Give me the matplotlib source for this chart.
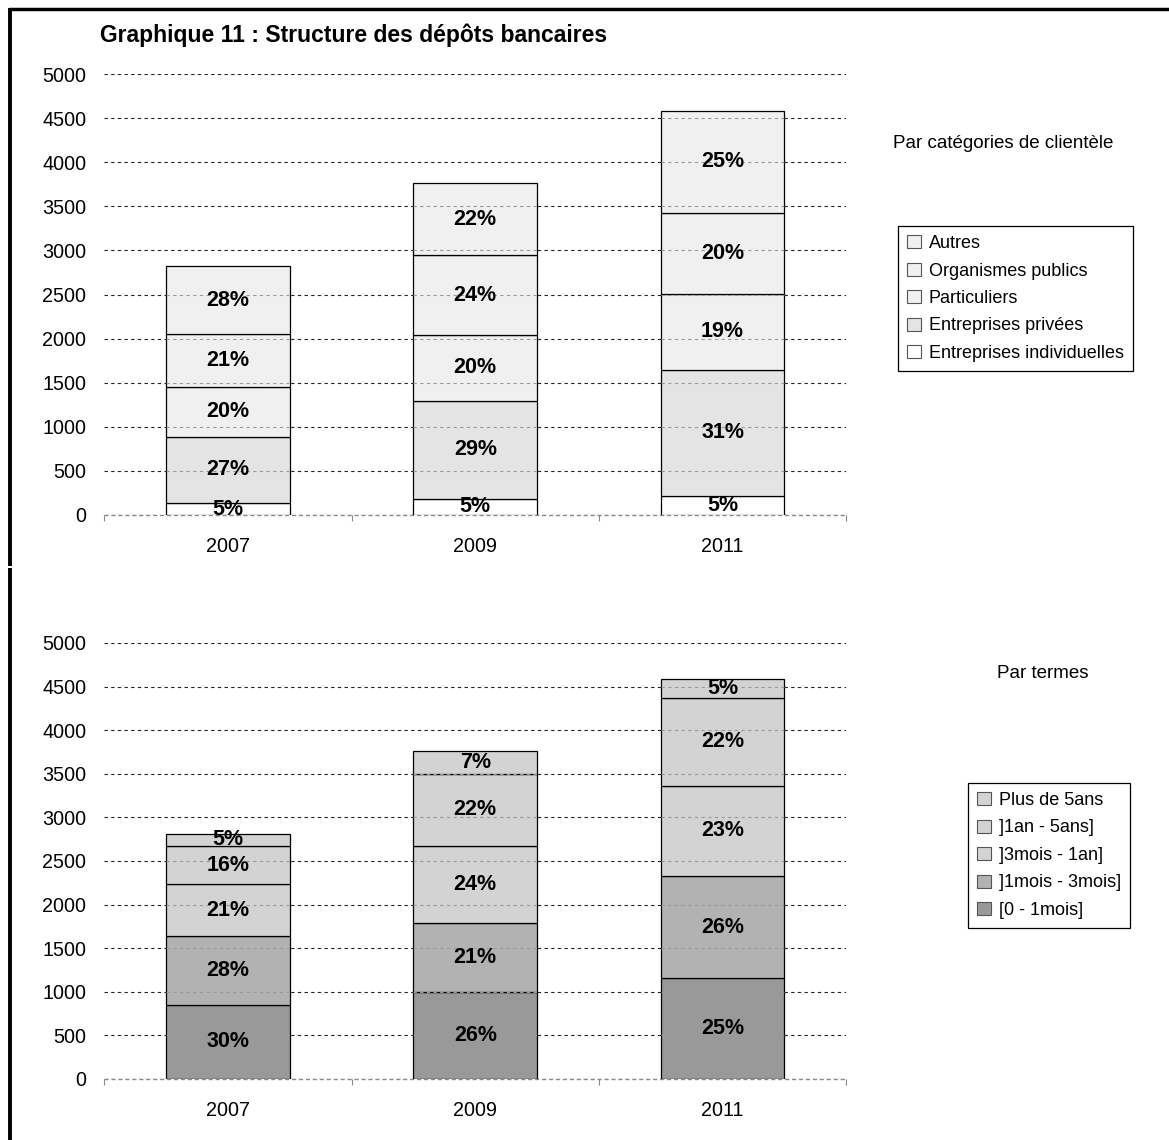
import matplotlib
matplotlib.use("Agg")
import matplotlib.pyplot as plt
from matplotlib.lines import Line2D
import numpy as np

plt.rcParams['font.family'] = ['Liberation Sans', 'DejaVu Sans']

years = ['2007', '2009', '2011']

# Chart 1 : par catégories de clientèle (bottom -> top)
cat_labels = ['Entreprises individuelles', 'Entreprises privées', 'Particuliers',
              'Organismes publics', 'Autres']
cat_values = [
    [136, 186, 219],      # Entreprises individuelles
    [750, 1109, 1429],    # Entreprises privées
    [565, 747, 858],      # Particuliers
    [598, 901, 922],      # Organismes publics
    [773, 826, 1149],     # Autres
]
cat_pct = [
    [5, 5, 5],
    [27, 29, 31],
    [20, 20, 19],
    [21, 24, 20],
    [28, 22, 25],
]
cat_colors = ['#ffffff', '#e4e4e4', '#f0f0f0', '#f0f0f0', '#f0f0f0']

# Chart 2 : par termes (bottom -> top)
term_labels = ['[0 - 1mois]', ']1mois - 3mois]', ']3mois - 1an]', ']1an - 5ans]', 'Plus de 5ans']
term_values = [
    [850, 996, 1154],
    [785, 792, 1173],
    [596, 889, 1038],
    [446, 823, 1004],
    [135, 262, 216],
]
term_pct = [
    [30, 26, 25],
    [28, 21, 26],
    [21, 24, 23],
    [16, 22, 22],
    [5, 7, 5],
]
term_colors = ['#999999', '#b2b2b2', '#d3d3d3', '#d3d3d3', '#d3d3d3']

yticks = [0, 500, 1000, 1500, 2000, 2500, 3000, 3500, 4000, 4500, 5000]

W, H = 1169, 1140
fig = plt.figure(figsize=(W / 100, H / 100), dpi=100)


def px_rect(x0, y0, x1, y1):
    return [x0 / W, 1 - y1 / H, (x1 - x0) / W, (y1 - y0) / H]


def draw_chart(ax, labels, values, pcts, colors):
    x = np.arange(len(years))
    width = 0.5
    bottom = np.zeros(len(years))
    handles = []
    for lab, vals, col in zip(labels, values, colors):
        vals = np.array(vals, dtype=float)
        bc = ax.bar(x, vals, width, bottom=bottom, color=col, edgecolor='black',
                    linewidth=0.9, label=lab, zorder=2)
        handles.append(bc)
        bottom = bottom + vals
    # percentage labels
    bottom = np.zeros(len(years))
    for vals, pc in zip(values, pcts):
        vals = np.array(vals, dtype=float)
        for i in range(len(years)):
            ax.text(x[i], bottom[i] + vals[i] / 2, f"{pc[i]}%", ha='center', va='center',
                    fontsize=15.5, fontweight='bold', zorder=5)
        bottom = bottom + vals
    # gridlines seen through bars (lighter)
    for i in range(len(years)):
        for yv in yticks:
            if 0 < yv < bottom[i]:
                ax.hlines(yv, x[i] - width / 2, x[i] + width / 2, colors='#9a9a9a',
                          linestyles=(0, (3, 3)), linewidth=0.8, zorder=3)
    ax.set_xlim(-0.5, len(years) - 0.5)
    ax.set_ylim(0, 5000)
    ax.set_yticks(yticks)
    ax.set_yticklabels([str(v) for v in yticks], fontsize=14.2)
    ax.set_xticks(x)
    ax.set_xticklabels(years, fontsize=14.2)
    ax.set_xticks(np.arange(-0.5, len(years), 1.0), minor=True)
    ax.tick_params(axis='y', length=0, pad=13)
    ax.tick_params(axis='x', which='major', length=0, pad=16)
    ax.tick_params(axis='x', which='minor', length=4, color='#888888', width=0.8)
    for s in ax.spines.values():
        s.set_visible(False)
    ax.set_axisbelow(True)
    ax.grid(axis='y', color='#222222', linestyle=(0, (3, 3)), linewidth=0.8, zorder=0)
    ax.axhline(0, color='#8a8a8a', linestyle=(0, (3, 2)), linewidth=1.0, zorder=1,
               clip_on=False)
    return handles


ax1 = fig.add_axes(px_rect(104.3, 74, 846.2, 515))
h1 = draw_chart(ax1, cat_labels, cat_values, cat_pct, cat_colors)
ax2 = fig.add_axes(px_rect(104.3, 643, 846.2, 1079))
h2 = draw_chart(ax2, term_labels, term_values, term_pct, term_colors)


def make_legend(handles, labels, x0, y0):
    leg = fig.legend(handles[::-1], labels[::-1], loc='upper left',
                     bbox_to_anchor=(x0 / W, 1 - y0 / H), bbox_transform=fig.transFigure,
                     borderaxespad=0, fancybox=False, framealpha=1, edgecolor='black',
                     fontsize=13, handlelength=0.75, handleheight=0.75,
                     handletextpad=0.45, labelspacing=0.58, borderpad=0.5)
    leg.get_frame().set_linewidth(0.9)
    for p in leg.legend_handles:
        p.set_edgecolor('#555555')
        p.set_linewidth(0.8)
    return leg


make_legend(h1, cat_labels, 898, 226)
make_legend(h2, term_labels, 968, 783)

fig.text(100 / W, 1 - 35 / H, 'Graphique 11 : Structure des dépôts bancaires',
         fontsize=16.5, fontweight='bold', ha='left', va='center')
fig.text(1003 / W, 1 - 144 / H, 'Par catégories de clientèle', fontsize=13.5,
         ha='center', va='center')
fig.text(1043 / W, 1 - 673 / H, 'Par termes', fontsize=13.5, ha='center', va='center')

# outer frame lines
fig.add_artist(Line2D([9 / W, 1.0], [1 - 9 / H, 1 - 9 / H], transform=fig.transFigure,
                      color='black', linewidth=2.5, solid_capstyle='butt'))
fig.add_artist(Line2D([9.5 / W, 9.5 / W], [1 - 8 / H, 1 - 566 / H], transform=fig.transFigure,
                      color='black', linewidth=2.8, solid_capstyle='butt'))
fig.add_artist(Line2D([9.5 / W, 9.5 / W], [1 - 568 / H, 0.0], transform=fig.transFigure,
                      color='black', linewidth=2.8, solid_capstyle='butt'))

fig.savefig('out.png', dpi=100, facecolor='white')
